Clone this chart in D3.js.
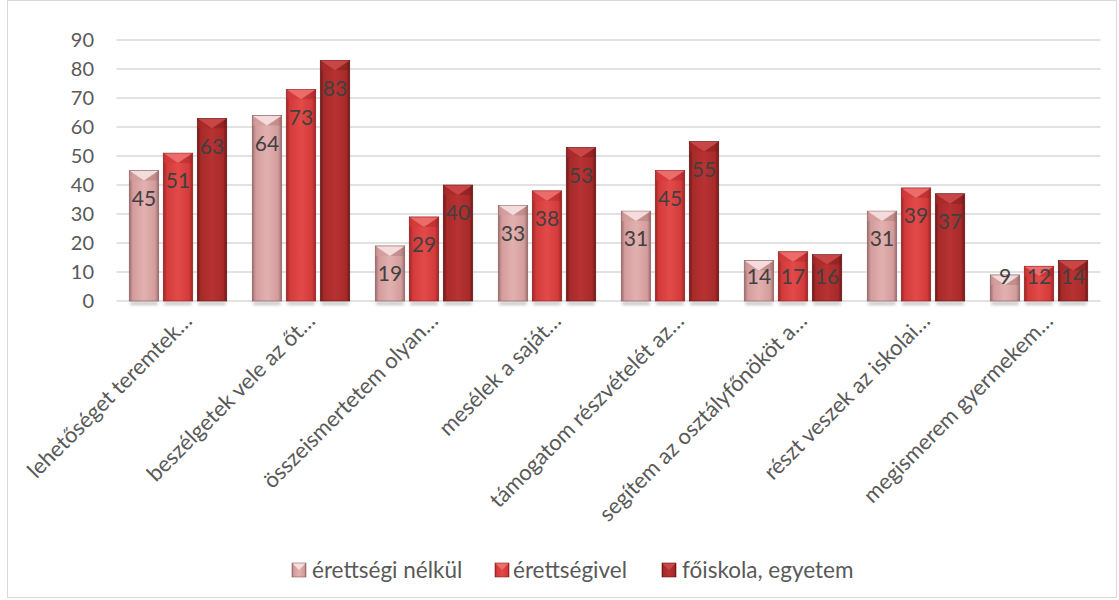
<!DOCTYPE html>
<html><head><meta charset="utf-8">
<script src="https://cdn.jsdelivr.net/npm/d3@7"></script>
<style>body{margin:0;background:#fff;} svg{display:block;font-family:Lato, "Open Sans", sans-serif;} text{font-family:Lato, "Open Sans", sans-serif;}</style>
</head><body>
<svg id="c" width="1119" height="600"></svg>
<script>
const categories = ["lehetőséget teremtek…","beszélgetek vele az őt…","összeismertetem olyan…","mesélek a saját…","támogatom részvételét az…","segítem az osztályfőnököt a…","részt veszek az iskolai…","megismerem gyermekem…"];
const seriesNames = ["érettségi nélkül","érettségivel","főiskola, egyetem"];
const seriesA = [45,64,19,33,31,14,31,9];
const seriesB = [51,73,29,38,45,17,39,12];
const seriesC = [63,83,40,53,55,16,37,14];
const yTicks = [0,10,20,30,40,50,60,70,80,90];

const svg = d3.select("#c");
const series = [seriesA, seriesB, seriesC];
const palettes = [
  {edge:"#9a6a6a", mid:"#e2b0b0", base:"#d49c9c", top:"#f6dede", stroke:"#8a5c5c"},
  {edge:"#9c2222", mid:"#e24a4a", base:"#d33a3a", top:"#ec6e6e", stroke:"#8a1e1e"},
  {edge:"#6e1616", mid:"#b83232", base:"#a82a2a", top:"#c94848", stroke:"#5e1414"}
];

const defs = svg.append("defs");
palettes.forEach((p,i)=>{
  const g = defs.append("linearGradient").attr("id","g"+i).attr("x1","0").attr("x2","1").attr("y1","0").attr("y2","0");
  g.append("stop").attr("offset","0").attr("stop-color",p.edge);
  g.append("stop").attr("offset","0.12").attr("stop-color",p.base);
  g.append("stop").attr("offset","0.5").attr("stop-color",p.mid);
  g.append("stop").attr("offset","0.88").attr("stop-color",p.base);
  g.append("stop").attr("offset","1").attr("stop-color",p.edge);
});
const blur = defs.append("filter").attr("id","sh").attr("x","-20%").attr("y","-100%").attr("width","140%").attr("height","300%");
blur.append("feGaussianBlur").attr("stdDeviation","1.5");

// border
svg.append("rect").attr("x",7.5).attr("y",0.5).attr("width",1109).attr("height",597)
  .attr("fill","none").attr("stroke","#d9d9d9").attr("stroke-width",1);

const x0 = d3.scaleBand().domain(categories).range([116.5,1100.5]).paddingInner(0.207).paddingOuter(0.1035);
const x1 = d3.scaleBand().domain([0,1,2]).range([0,x0.bandwidth()]).paddingInner(0.132).paddingOuter(0);
const y = d3.scaleLinear().domain([0,90]).range([301,40]);

// gridlines
svg.append("g").selectAll("line").data(yTicks).join("line")
  .attr("x1",116.5).attr("x2",1100.5)
  .attr("y1",d=>y(d)).attr("y2",d=>y(d))
  .attr("stroke","#d9d9d9").attr("stroke-width",1.5);

// y axis labels
const yAxis = d3.axisLeft(y).tickValues(yTicks).tickSize(0).tickPadding(0);
const ya = svg.append("g").attr("transform","translate(94,0)").call(yAxis);
ya.attr("font-family",null).attr("font-size",null);
ya.select(".domain").remove();
ya.selectAll("text").attr("font-size","20px").attr("fill","#595959");

// bars
const groups = svg.append("g").selectAll("g").data(categories).join("g")
  .attr("transform",d=>`translate(${x0(d)},0)`);

const bw = x1.bandwidth();
groups.each(function(cat,ci){
  const g = d3.select(this);
  series.forEach((s,si)=>{
    const v = s[ci];
    const bx = x1(si), top = y(v), bot = y(0);
    const p = palettes[si];
    g.append("rect").attr("x",bx+1).attr("y",bot+1).attr("width",bw-2).attr("height",3)
      .attr("fill","#9a9a9a").attr("opacity",0.6).attr("filter","url(#sh)");
    g.append("rect").attr("x",bx).attr("y",top).attr("width",bw).attr("height",bot-top)
      .attr("fill",`url(#g${si})`).attr("stroke",p.stroke).attr("stroke-width",0.6);
    const bev = Math.min(10,(bot-top)/2);
    g.append("path").attr("d",`M${bx+0.5},${top+0.5}L${bx+bw-0.5},${top+0.5}L${bx+bw/2},${top+bev}Z`)
      .attr("fill",p.top).attr("opacity",0.95);
    g.append("path").attr("d",`M${bx+0.5},${top+0.5}L${bx+bw/2},${top+bev}L${bx+0.5},${top+bev}Z`)
      .attr("fill",p.base).attr("opacity",0.6);
    g.append("path").attr("d",`M${bx+bw-0.5},${top+0.5}L${bx+bw/2},${top+bev}L${bx+bw-0.5},${top+bev}Z`)
      .attr("fill",p.edge).attr("opacity",0.35);
    g.append("text").attr("x",bx+bw/2).attr("y",Math.min(top+28,277)).attr("dy","0.35em")
      .attr("text-anchor","middle").attr("font-size","21px").attr("fill","#404040").text(v);
  });
});

// x axis category labels
const xAxis = d3.axisBottom(x0).tickSize(0).tickPadding(0);
const xa = svg.append("g").attr("transform","translate(0,317)").call(xAxis);
xa.attr("font-family",null).attr("font-size",null);
xa.select(".domain").remove();
xa.selectAll("text").attr("font-size","22px").attr("fill","#595959")
  .attr("text-anchor","end").attr("dy","0.35em")
  .attr("transform","translate(10,0) rotate(-45)").attr("x",0).attr("y",0);

// legend
const legendX = [292, 495, 662];
const legendTextOff = [20, 18, 20];
const lg = svg.append("g").selectAll("g").data(seriesNames).join("g")
  .attr("transform",(d,i)=>`translate(${legendX[i]},563)`);
lg.append("rect").attr("width",14).attr("height",14).attr("fill",(d,i)=>`url(#g${i})`)
  .attr("stroke",(d,i)=>palettes[i].stroke).attr("stroke-width",0.6);
lg.append("path").attr("d","M0.5,0.5L13.5,0.5L7,7Z").attr("fill",(d,i)=>palettes[i].top);
lg.append("text").attr("x",(d,i)=>legendTextOff[i]).attr("y",7).attr("dy","0.35em").attr("font-size","22.5px")
  .attr("fill","#595959").text(d=>d);
</script>
</body></html>
